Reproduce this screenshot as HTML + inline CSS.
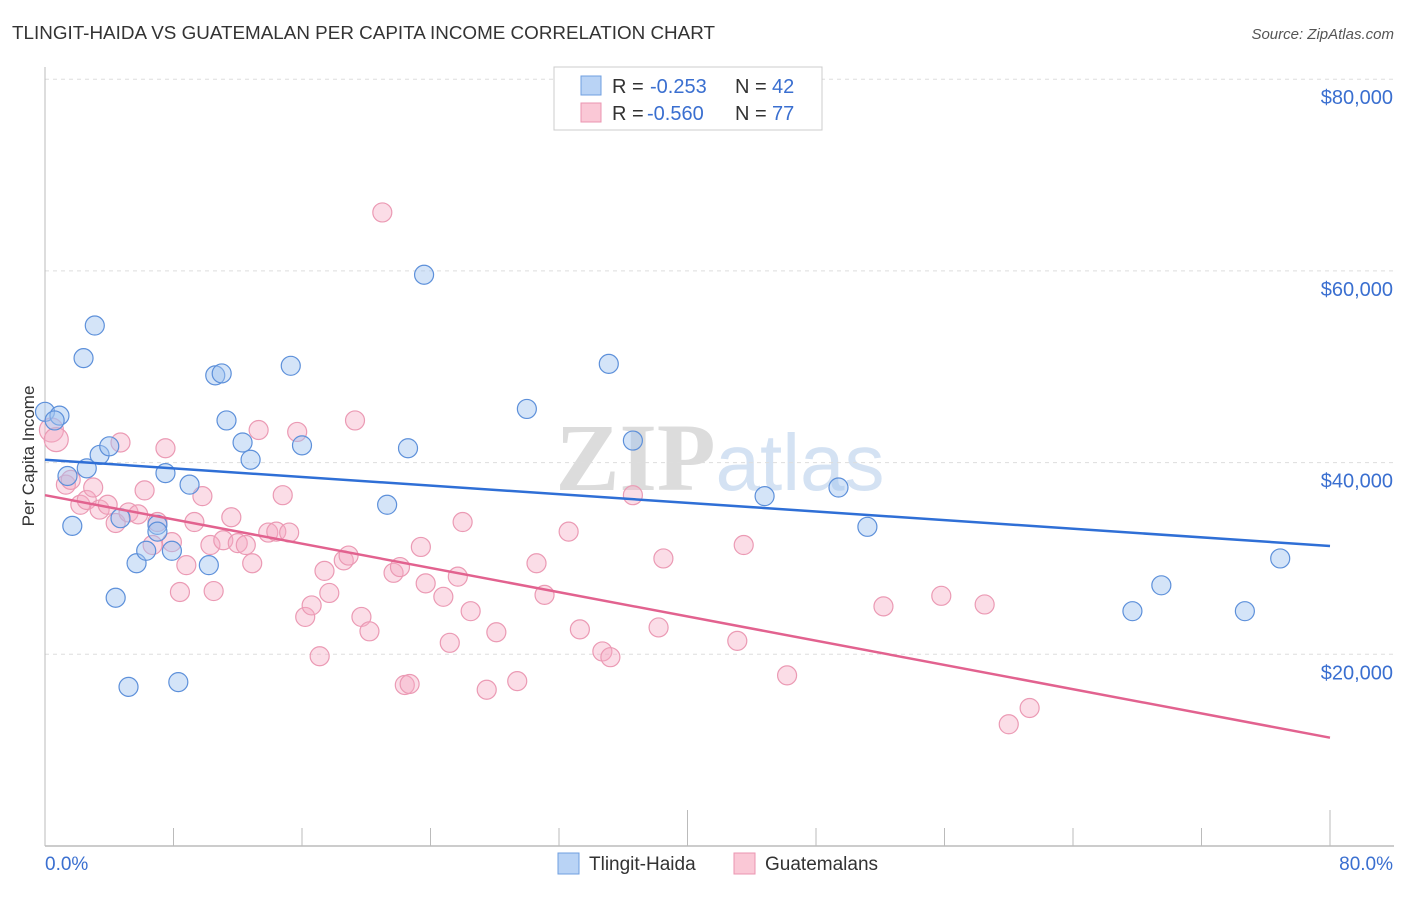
<!DOCTYPE html>
<html><head><meta charset="utf-8"><style>
body{margin:0;background:#fff;font-family:"Liberation Sans",sans-serif}
svg text{font-family:"Liberation Sans",sans-serif}
</style></head><body>
<svg width="1406" height="892" xmlns="http://www.w3.org/2000/svg" id="svg">
<text x="12" y="39" font-size="18" fill="#333" textLength="703" lengthAdjust="spacingAndGlyphs">TLINGIT-HAIDA VS GUATEMALAN PER CAPITA INCOME CORRELATION CHART</text>
<text x="1394" y="39" font-size="15" fill="#555" font-style="italic" text-anchor="end">Source: ZipAtlas.com</text>
<text x="720" y="490" font-size="96" text-anchor="middle" fill="#e4e4e4"><tspan font-family="Liberation Serif" font-weight="bold" fill="#dcdcdc">ZIP</tspan><tspan fill="#d4e2f3" font-size="80">atlas</tspan></text>
<g id="grid"></g>
<g id="axes"></g>
<text transform="translate(34,456) rotate(-90)" font-size="17" fill="#333" text-anchor="middle">Per Capita Income</text>
<g id="marks"></g>
<g>
<rect x="554" y="67" width="268" height="63" fill="#fff" stroke="#ccc"/>
<rect x="581" y="76" width="20" height="19" fill="#b9d3f5" stroke="#6f9fe0"/>
<text x="612" y="93" font-size="20" fill="#333">R =</text>
<text x="650" y="93" font-size="20" fill="#3a6fd0">-0.253</text>
<text x="735" y="93" font-size="20" fill="#333">N =</text>
<text x="772" y="93" font-size="20" fill="#3a6fd0">42</text>
<rect x="581" y="103" width="20" height="19" fill="#fac8d6" stroke="#eb95b0"/>
<text x="612" y="120" font-size="20" fill="#333">R =</text>
<text x="647" y="120" font-size="20" fill="#3a6fd0">-0.560</text>
<text x="735" y="120" font-size="20" fill="#333">N =</text>
<text x="772" y="120" font-size="20" fill="#3a6fd0">77</text>
</g>
<g>
<rect x="558" y="853" width="21" height="21" fill="#b9d3f5" stroke="#6f9fe0"/>
<text x="589" y="870" font-size="19" fill="#333">Tlingit-Haida</text>
<rect x="734" y="853" width="21" height="21" fill="#fac8d6" stroke="#eb95b0"/>
<text x="765" y="870" font-size="19" fill="#333">Guatemalans</text>
</g>
</svg>
<script>
const yTicks=[20000,40000,60000,80000];
const yTickLabels=["$20,000","$40,000","$60,000","$80,000"];
const xTicks=[0,8,16,24,32,40,48,56,64,72,80];
const blueX=[0.0,0.9,0.6,3.1,2.4,1.4,2.6,3.4,4.0,1.7,4.7,5.7,4.4,6.3,7.0,7.0,7.9,7.5,9.0,10.2,5.2,8.3,10.6,11.0,11.3,12.3,12.8,15.3,16.0,21.3,22.6,23.6,30.0,35.1,36.6,44.8,49.4,51.2,67.7,69.5,74.7,76.9];
const blueY=[45300,44900,44400,54300,50900,38600,39400,40800,41700,33400,34200,29500,25900,30800,33500,32800,30800,38900,37700,29300,16600,17100,49100,49300,44400,42100,40300,50100,41800,35600,41500,59600,45600,50300,42300,36500,37400,33300,24500,27200,24500,30000];
const pinkX=[0.4,0.7,1.3,1.6,2.2,2.6,3.0,3.4,3.9,4.4,4.7,5.2,5.8,6.2,6.7,7.0,7.5,7.9,8.4,8.8,9.3,9.8,10.3,10.5,11.1,11.6,12.0,12.5,12.9,13.3,13.9,14.4,14.8,15.2,15.7,16.2,16.6,17.1,17.4,17.7,18.6,18.9,19.3,19.7,20.2,21.0,21.7,22.1,22.4,22.7,23.4,23.7,24.8,25.2,25.7,26.0,26.5,27.5,28.1,29.4,30.6,31.1,32.6,33.3,34.7,35.2,36.6,38.2,38.5,43.1,43.5,46.2,52.2,55.8,58.5,60.0,61.3];
const pinkY=[43400,42400,37700,38200,35600,36100,37400,35100,35600,33700,42100,34800,34600,37100,31400,33800,41500,31700,26500,29300,33800,36500,31400,26600,31900,34300,31600,31400,29500,43400,32700,32800,36600,32700,43200,23900,25100,19800,28700,26400,29800,30300,44400,23900,22400,66100,28500,29100,16800,16900,31200,27400,26000,21200,28100,33800,24500,16300,22300,17200,29500,26200,32800,22600,20300,19700,36600,22800,30000,21400,31400,17800,25000,26100,25200,12700,14400];
const blueLine=[40300,31300];
const pinkLine=[36600,11300];
const NS="http://www.w3.org/2000/svg";
const X=p=>45+p/80*1285;
const Y=v=>846-v/20000*191.7;
function mk(t,a,parent){const e=document.createElementNS(NS,t);for(const k in a)e.setAttribute(k,a[k]);parent.appendChild(e);return e;}
const grid=document.getElementById('grid'),axes=document.getElementById('axes'),marks=document.getElementById('marks');
yTicks.forEach((v,i)=>{
  const l=mk('line',{x1:45,x2:1394,y1:Y(v),y2:Y(v),stroke:'#ddd','stroke-dasharray':'4,4'},grid);
  
  
  const t=mk('text',{x:1393,y:Y(v)+25,'font-size':20,fill:'#3a6fd0','text-anchor':'end'},axes);
  t.textContent=yTickLabels[i];
  
  
});
mk('line',{x1:45,x2:45,y1:67,y2:846,stroke:'#bbb'},axes);
mk('line',{x1:45,x2:1394,y1:846,y2:846,stroke:'#bbb','stroke-width':1.5},axes);
xTicks.forEach(p=>{
  const tall=(p===40||p===80);
  const l=mk('line',{x1:X(p),x2:X(p),y1:tall?810:828,y2:846,stroke:'#bbb'},axes);
  
  
});
const t0=mk('text',{x:45,y:870,'font-size':19,fill:'#3a6fd0'},axes);t0.textContent='0.0%';

const t1=mk('text',{x:1393,y:870,'font-size':19,fill:'#3a6fd0','text-anchor':'end'},axes);t1.textContent='80.0%';

pinkX.forEach((p,i)=>{
  const c=mk('circle',{cx:X(p),cy:Y(pinkY[i]),r:i<2?12:9.5,fill:'rgba(245,170,195,0.4)',stroke:'#eb9ab4','stroke-width':1.2},marks);
  
  
});
blueX.forEach((p,i)=>{
  const c=mk('circle',{cx:X(p),cy:Y(blueY[i]),r:9.5,fill:'rgba(160,195,240,0.45)',stroke:'#5d90da','stroke-width':1.2},marks);
  
  
});
const bl=mk('line',{x1:X(0),y1:Y(blueLine[0]),x2:X(80),y2:Y(blueLine[1]),stroke:'#2f6fd6','stroke-width':2.5},marks);


const pl=mk('line',{x1:X(0),y1:Y(pinkLine[0]),x2:X(80),y2:Y(pinkLine[1]),stroke:'#e2628f','stroke-width':2.5},marks);


</script>
</body></html>
